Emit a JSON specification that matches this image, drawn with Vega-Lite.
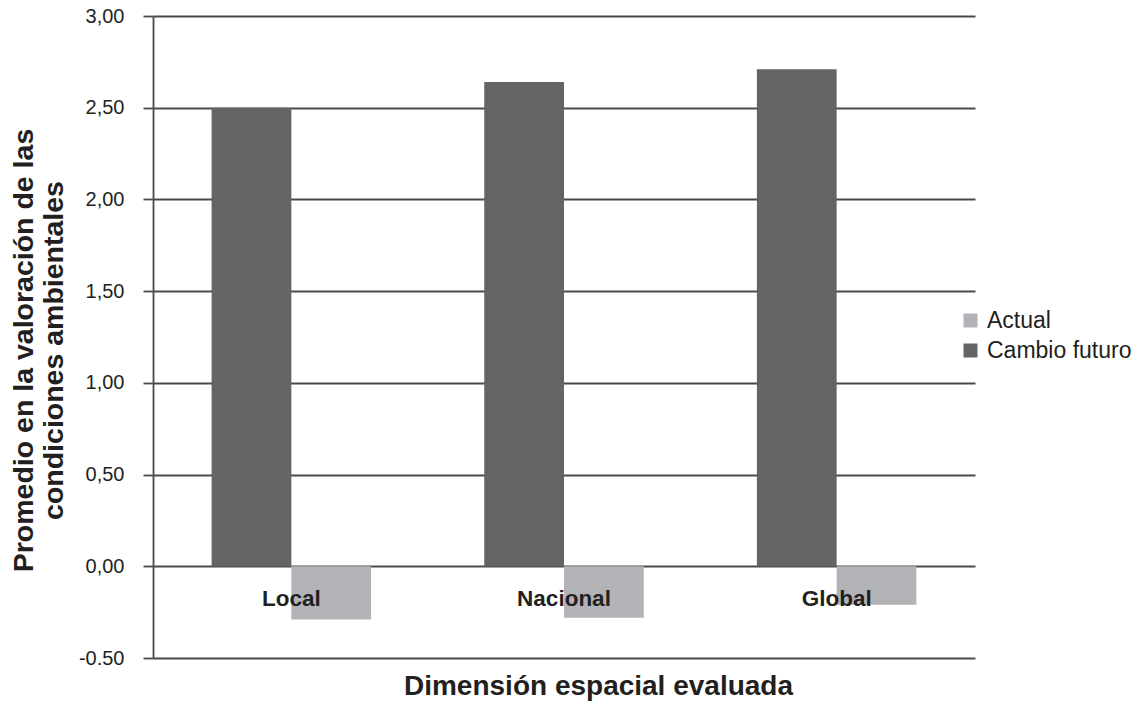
{
  "$schema": "https://vega.github.io/schema/vega-lite/v6.json",
  "width": 822,
  "height": 642,
  "autosize": {"type": "none"},
  "padding": {"left": 153, "top": 16, "right": 163, "bottom": 46},
  "background": "white",
  "config": {
    "view": {"stroke": null},
    "font": "Liberation Sans"
  },
  "data": {
    "values": [
      {"dim": "Local", "serie": "Cambio futuro", "valor": 2.50},
      {"dim": "Local", "serie": "Actual", "valor": -0.29},
      {"dim": "Nacional", "serie": "Cambio futuro", "valor": 2.64},
      {"dim": "Nacional", "serie": "Actual", "valor": -0.28},
      {"dim": "Global", "serie": "Cambio futuro", "valor": 2.71},
      {"dim": "Global", "serie": "Actual", "valor": -0.21}
    ]
  },
  "encoding": {
    "x": {
      "field": "dim",
      "type": "nominal",
      "sort": ["Local", "Nacional", "Global"],
      "scale": {"paddingInner": 0.415, "paddingOuter": 0.215},
      "axis": {
        "title": "Dimensión espacial evaluada",
        "titleFont": "Liberation Sans",
        "titleFontSize": 28,
        "titleFontWeight": "bold",
        "titleColor": "#231f20",
        "titleX": 445,
        "titlePadding": 14,
        "labels": false,
        "ticks": false,
        "domain": false
      }
    }
  },
  "layer": [
    {
      "mark": {"type": "bar"},
      "encoding": {
        "xOffset": {
          "field": "serie",
          "type": "nominal",
          "sort": ["Cambio futuro", "Actual"],
          "scale": {"paddingInner": 0, "paddingOuter": 0}
        },
        "y": {
          "field": "valor",
          "type": "quantitative",
          "scale": {"domain": [-0.5, 3], "nice": false, "zero": false},
          "axis": {
            "values": [-0.5, 0, 0.5, 1, 1.5, 2, 2.5, 3],
            "labelExpr": "datum.value < 0 ? '-' + format(-datum.value, '.2f') : replace(format(datum.value, '.2f'), '.', ',')",
            "labelFont": "Liberation Sans",
            "labelFontSize": 20,
            "labelColor": "#231f20",
            "labelPadding": 19,
            "tickSize": 10,
            "tickColor": "#4a4a4a",
            "tickWidth": 1.8,
            "domainColor": "#4a4a4a",
            "domainWidth": 1.8,
            "grid": true,
            "gridColor": "#4a4a4a",
            "gridWidth": 1.8,
            "gridOpacity": 1,
            "title": ["Promedio en la valoración de las", "condiciones ambientales"],
            "titleFont": "Liberation Sans",
            "titleFontSize": 28.5,
            "titleFontWeight": "bold",
            "titleColor": "#231f20",
            "titlePadding": 10,
            "titleLineHeight": 30,
            "titleY": 334
          }
        },
        "color": {
          "field": "serie",
          "type": "nominal",
          "scale": {
            "domain": ["Actual", "Cambio futuro"],
            "range": ["#b2b3b6", "#646466"]
          },
          "legend": {
            "title": null,
            "orient": "none",
            "legendX": 806,
            "legendY": 293,
            "symbolType": "square",
            "symbolSize": 196,
            "symbolStrokeWidth": 0,
            "symbolOpacity": 1,
            "labelFont": "Liberation Sans",
            "labelFontSize": 23,
            "labelColor": "#231f20",
            "labelOffset": 5,
            "rowPadding": 6
          }
        }
      }
    },
    {
      "mark": {
        "type": "text",
        "font": "Liberation Sans",
        "fontSize": 22.5,
        "fontWeight": "bold",
        "color": "#231f20",
        "baseline": "middle",
        "align": "center"
      },
      "encoding": {
        "y": {"datum": -0.18},
        "text": {"field": "dim", "type": "nominal"},
        "detail": {"field": "dim", "type": "nominal"}
      },
      "transform": [{"filter": "datum.serie === 'Actual'"}]
    }
  ]
}
